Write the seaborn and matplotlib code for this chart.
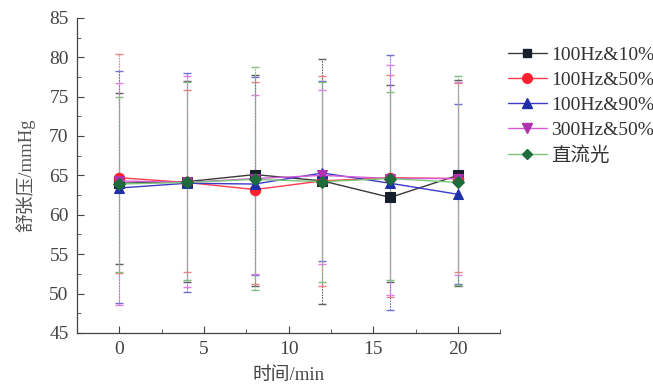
import numpy as np
import pandas as pd
import matplotlib
matplotlib.use("Agg")
import matplotlib.pyplot as plt
import matplotlib.ticker as ticker
import seaborn as sns

# --- data ---
times = [0, 4, 8, 12, 16, 20]
groups = ["100Hz&10%", "100Hz&50%", "100Hz&90%", "300Hz&50%", "直流光"]

mean_10 = [64.0, 64.2, 65.1, 64.3, 62.2, 65.0]
mean_50 = [64.7, 64.1, 63.2, 64.3, 64.7, 64.6]
mean_90 = [63.4, 64.0, 63.9, 65.3, 64.0, 62.6]
mean_300 = [64.3, 64.1, 64.6, 65.0, 64.6, 64.6]
mean_dc = [63.9, 64.1, 64.5, 64.2, 64.6, 64.1]

upper_10 = [75.4, 77.0, 77.8, 79.8, 76.5, 77.1]
upper_50 = [80.4, 75.9, 76.8, 77.6, 77.8, 76.7]
upper_90 = [78.2, 78.0, 77.5, 77.0, 80.3, 74.0]
upper_300 = [76.7, 77.6, 75.2, 75.9, 79.0, 76.9]
upper_dc = [75.0, 76.8, 78.7, 76.8, 75.6, 77.6]

lower_10 = [53.8, 51.5, 51.0, 48.7, 51.5, 51.0]
lower_50 = [52.6, 52.7, 51.2, 51.0, 49.5, 52.7]
lower_90 = [48.8, 50.2, 52.3, 54.1, 47.9, 51.2]
lower_300 = [48.6, 50.8, 52.5, 53.8, 49.8, 52.3]
lower_dc = [52.7, 51.7, 50.4, 51.5, 51.7, 51.1]

means = [mean_10, mean_50, mean_90, mean_300, mean_dc]
uppers = [upper_10, upper_50, upper_90, upper_300, upper_dc]
lowers = [lower_10, lower_50, lower_90, lower_300, lower_dc]

line_colors = ["#3a3a3a", "#ff3b4e", "#3b3bc8", "#d65ad6", "#7cc67c"]
marker_colors = ["#15202b", "#ff2030", "#1f2fa8", "#b030b0", "#1e6b3c"]
err_colors = ["#606060", "#f08080", "#7070d0", "#e080e0", "#80c080"]
markers = ["s", "o", "^", "v", "D"]
msizes = [6.5, 7.5, 7.5, 7.5, 6]

# --- long table for seaborn ---
rows = []
for g, m in zip(groups, means):
    for t, v in zip(times, m):
        rows.append({"t": t, "v": v, "group": g})
df = pd.DataFrame(rows)

sns.set_style("ticks")
plt.rcParams["font.family"] = ["Liberation Serif", "Noto Sans CJK SC"]

fig = plt.figure(figsize=(6.53, 3.88), dpi=100)
ax = fig.add_axes([0.118, 0.142, 0.648, 0.812])

# error bars first (thin dotted)
for i, g in enumerate(groups):
    m = np.array(means[i])
    yerr = [m - np.array(lowers[i]), np.array(uppers[i]) - m]
    eb = ax.errorbar(times, m, yerr=yerr, fmt="none", ecolor=err_colors[i],
                     elinewidth=0.8, capsize=3, capthick=1.0, zorder=1)
    eb[2][0].set_linestyle((0, (1.5, 1.0)))

sns.lineplot(data=df, x="t", y="v", hue="group", style="group",
             palette=dict(zip(groups, line_colors)),
             markers=dict(zip(groups, markers)), dashes=False,
             linewidth=1.0, ax=ax, legend=False, zorder=3)

# restyle markers to match
for i, line in enumerate(ax.get_lines()[-len(groups):]):
    line.set_markerfacecolor(marker_colors[i])
    line.set_markeredgecolor(marker_colors[i])
    line.set_markersize(msizes[i])

# legend
handles = []
for i, g in enumerate(groups):
    h, = ax.plot([], [], color=line_colors[i], marker=markers[i],
                 markerfacecolor=marker_colors[i], markeredgecolor=marker_colors[i],
                 markersize=msizes[i] - 0.5, linewidth=1.0, label=g)
    handles.append(h)
ax.legend(handles=handles, loc="upper left", bbox_to_anchor=(1.0, 0.935),
          frameon=False, fontsize=14, handlelength=2.0, handletextpad=0.2,
          labelspacing=0.38, borderaxespad=0.0, labelcolor="#333333")

ax.set_xlim(-2.5, 22.5)
ax.set_ylim(45, 85)
ax.xaxis.set_major_locator(ticker.MultipleLocator(5))
ax.xaxis.set_minor_locator(ticker.MultipleLocator(2.5))
ax.yaxis.set_major_locator(ticker.MultipleLocator(5))
ax.yaxis.set_minor_locator(ticker.MultipleLocator(2.5))
ax.tick_params(which="both", direction="in", labelsize=14, colors="#444444")
ax.tick_params(which="major", length=5, pad=6)
ax.tick_params(which="minor", length=3)
for s in ["top", "right"]:
    ax.spines[s].set_visible(False)
for s in ["left", "bottom"]:
    ax.spines[s].set_color("#444444")
    ax.spines[s].set_linewidth(0.9)

ax.set_xlabel("时间/min", fontsize=13.5, color="#444444", labelpad=6)
ax.set_ylabel("舒张压/mmHg", fontsize=13.5, color="#555555", labelpad=10)

fig.savefig("out.png", dpi=100)
